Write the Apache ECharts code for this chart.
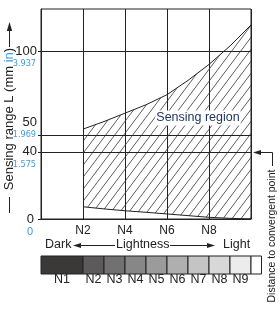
<!DOCTYPE html>
<html>
<head>
<meta charset="utf-8">
<script src="https://cdn.jsdelivr.net/npm/echarts@6/dist/echarts.min.js"></script>
<style>
html, body { margin: 0; padding: 0; background: #fff; }
#main { width: 280px; height: 310px; }
</style>
</head>
<body>
<div id="main"></div>
<script>
// lightness (N value) and sensing range limits in mm
var lightness = [2, 3, 4, 5, 6, 7, 8, 9, 10];
var upper = [53.5, 58, 63, 68, 74, 82.5, 92, 103, 115.5];
var lower = [7.3, 6, 4.9, 4, 3, 2, 1, 0.4, 0];

var xTicks = [2, 4, 6, 8];
var yTicks = [0, 40, 50, 100];
var yInch = ['0', '1.575', '1.969', '3.937'];
var hLines = [40, 50, 100];

// grey scale chips
var chipNames = ['N1', 'N2', 'N3', 'N4', 'N5', 'N6', 'N7', 'N8', 'N9', ''];
var chipStart = [0, 2, 3, 4, 5, 6, 7, 8, 9, 10];
var chipEnd = [2, 3, 4, 5, 6, 7, 8, 9, 10, 10.5];
var chipColors = ['#3b3838', '#5c5a5a', '#727171', '#888787', '#9c9b9b',
                  '#b0afaf', '#c5c4c4', '#d9d8d8', '#ececec', '#ffffff'];

var FONT = '"Liberation Sans", Arial, sans-serif';
var NARROW = '"Liberation Sans Narrow", "DejaVu Sans Condensed", sans-serif';
var BLUE = '#3d9be9';
var INK = '#222';

// hatch tile
var tile = document.createElement('canvas');
tile.width = 9;
tile.height = 12;
var c = tile.getContext('2d');
c.strokeStyle = '#333';
c.lineWidth = 0.8;
c.beginPath();
[-9, 0, 9].forEach(function (dx) {
    c.moveTo(dx, 12);
    c.lineTo(dx + 9, 0);
});
c.stroke();

var myChart = echarts.init(document.getElementById('main'));

var option = {
    animation: false,
    grid: [
        { left: 41, right: 29, top: 9, bottom: 91, show: true, borderColor: INK, borderWidth: 1 },
        { left: 41, right: 18.5, top: 256, height: 18 }
    ],
    xAxis: [{
        type: 'value',
        gridIndex: 0,
        min: 0,
        max: 10,
        interval: 2,
        axisLine: { show: true, lineStyle: { color: INK } },
        axisTick: { show: false },
        splitLine: { show: true, lineStyle: { color: INK, width: 1 } },
        axisLabel: {
            customValues: xTicks,
            margin: 6,
            color: INK,
            fontSize: 12,
            fontFamily: FONT,
            formatter: function (v) { return 'N' + v; }
        }
    }, {
        type: 'value',
        gridIndex: 1,
        min: 0,
        max: 10.5,
        show: false
    }],
    yAxis: [{
        type: 'value',
        gridIndex: 0,
        min: 0,
        max: 125,
        interval: 5,
        axisLine: { show: true, lineStyle: { color: INK } },
        axisTick: { show: true, customValues: yTicks, length: 3, lineStyle: { color: INK } },
        splitLine: { show: false },
        axisLabel: {
            customValues: yTicks,
            margin: 4,
            formatter: function (v) {
                var i = yTicks.indexOf(v);
                if (i < 0) return '';
                if (v === 50) return '{k|' + v + '}\n{b|' + yInch[i] + '}\n{f| }';
                if (v === 0) return '{e| }\n{z|' + v + '}\n{bz|' + yInch[i] + '}';
                return '{e| }\n{k|' + v + '}\n{b|' + yInch[i] + '}';
            },
            rich: {
                k: { fontSize: 13, lineHeight: 13, color: INK, fontFamily: FONT },
                z: { fontSize: 13, lineHeight: 13, color: INK, fontFamily: FONT, padding: [0, 3, 0, 0] },
                b: { fontSize: 9, lineHeight: 12, color: BLUE, fontFamily: NARROW, padding: [0, 1, 0, 0] },
                bz: { fontSize: 11, lineHeight: 12, color: BLUE, fontFamily: FONT, padding: [0, 4, 0, 0] },
                e: { fontSize: 10, lineHeight: 12 },
                f: { fontSize: 10, lineHeight: 13 }
            }
        }
    }, {
        type: 'value',
        gridIndex: 1,
        min: 0,
        max: 1,
        show: false
    }],
    graphic: [
        // left axis name with arrow
        {
            type: 'text', x: 9, y: 119, rotation: Math.PI / 2,
            style: {
                text: 'Sensing range L (mm {b|in})',
                align: 'center', verticalAlign: 'middle',
                fill: INK, font: '13px ' + FONT,
                rich: { b: { fill: BLUE, font: '13px ' + FONT } }
            }
        },
        { type: 'line', shape: { x1: 9.5, y1: 47, x2: 9.5, y2: 29 }, style: { stroke: INK, lineWidth: 1 } },
        { type: 'polygon', shape: { points: [[9.5, 22], [6.8, 31], [12.2, 31]] }, style: { fill: INK } },
        { type: 'line', shape: { x1: 9.5, y1: 197, x2: 9.5, y2: 213 }, style: { stroke: INK, lineWidth: 1 } },
        // right annotation
        {
            type: 'text', x: 272, y: 236, rotation: Math.PI / 2,
            style: {
                text: 'Distance to convergent point',
                align: 'center', verticalAlign: 'middle',
                fill: INK, font: '10.5px ' + FONT
            }
        },
        { type: 'polyline', shape: { points: [[272.5, 166], [272.5, 152.5], [259, 152.5]] }, style: { stroke: INK, lineWidth: 1, fill: null } },
        { type: 'polygon', shape: { points: [[253, 152.5], [261, 150], [261, 155]] }, style: { fill: INK } },
        // lightness row
        { type: 'text', x: 45, y: 245, style: { text: 'Dark', verticalAlign: 'middle', fill: INK, font: '12.5px ' + FONT } },
        { type: 'polygon', shape: { points: [[73, 245.5], [81, 243], [81, 248]] }, style: { fill: INK } },
        { type: 'line', shape: { x1: 80, y1: 245.5, x2: 115, y2: 245.5 }, style: { stroke: INK, lineWidth: 1 } },
        { type: 'text', x: 116, y: 245, style: { text: 'Lightness', verticalAlign: 'middle', fill: INK, font: '12.5px ' + FONT } },
        { type: 'line', shape: { x1: 170, y1: 245.5, x2: 208, y2: 245.5 }, style: { stroke: INK, lineWidth: 1 } },
        { type: 'polygon', shape: { points: [[215, 245.5], [207, 243], [207, 248]] }, style: { fill: INK } },
        { type: 'text', x: 223, y: 245, style: { text: 'Light', verticalAlign: 'middle', fill: INK, font: '12.5px ' + FONT } },
        // region label
        {
            type: 'text', x: 198, y: 118, z: 100,
            style: {
                text: 'Sensing region', align: 'center', verticalAlign: 'middle',
                fill: '#203562', font: '12.5px ' + FONT,
                backgroundColor: '#fff', padding: [1, 1]
            }
        }
    ],
    series: [{
        type: 'custom',
        xAxisIndex: 0,
        yAxisIndex: 0,
        z: 2,
        data: [[2, 0]],
        renderItem: function (params, api) {
            var pts = [];
            for (var i = 0; i < lightness.length; i++) {
                pts.push(api.coord([lightness[i], upper[i]]));
            }
            for (var j = lightness.length - 1; j >= 0; j--) {
                pts.push(api.coord([lightness[j], lower[j]]));
            }
            return {
                type: 'polygon',
                shape: { points: pts },
                style: { fill: { image: tile, repeat: 'repeat' }, stroke: null }
            };
        }
    }, {
        type: 'line',
        xAxisIndex: 0,
        yAxisIndex: 0,
        z: 3,
        symbol: 'none',
        data: lightness.map(function (x, i) { return [x, upper[i]]; }),
        lineStyle: { color: INK, width: 1 },
        markLine: {
            silent: true,
            symbol: 'none',
            label: { show: false },
            lineStyle: { color: INK, width: 1, type: 'solid' },
            data: hLines.map(function (v) { return { yAxis: v }; })
        }
    }, {
        type: 'line',
        xAxisIndex: 0,
        yAxisIndex: 0,
        z: 3,
        symbol: 'none',
        data: lightness.map(function (x, i) { return [x, lower[i]]; }),
        lineStyle: { color: INK, width: 1 }
    }, {
        type: 'custom',
        xAxisIndex: 1,
        yAxisIndex: 1,
        data: chipStart.map(function (s, i) { return [s, chipEnd[i], i]; }),
        renderItem: function (params, api) {
            var i = api.value(2);
            var p0 = api.coord([api.value(0), 1]);
            var p1 = api.coord([api.value(1), 0]);
            return {
                type: 'group',
                children: [{
                    type: 'rect',
                    shape: { x: p0[0], y: p0[1], width: p1[0] - p0[0], height: p1[1] - p0[1] },
                    style: { fill: chipColors[i], stroke: INK, lineWidth: 1 }
                }, {
                    type: 'text',
                    x: (p0[0] + p1[0]) / 2,
                    y: p1[1] + 6,
                    style: {
                        text: chipNames[i], align: 'center', verticalAlign: 'middle',
                        fill: INK, font: '12.5px ' + FONT
                    }
                }]
            };
        }
    }]
};

myChart.setOption(option);
</script>
</body>
</html>
